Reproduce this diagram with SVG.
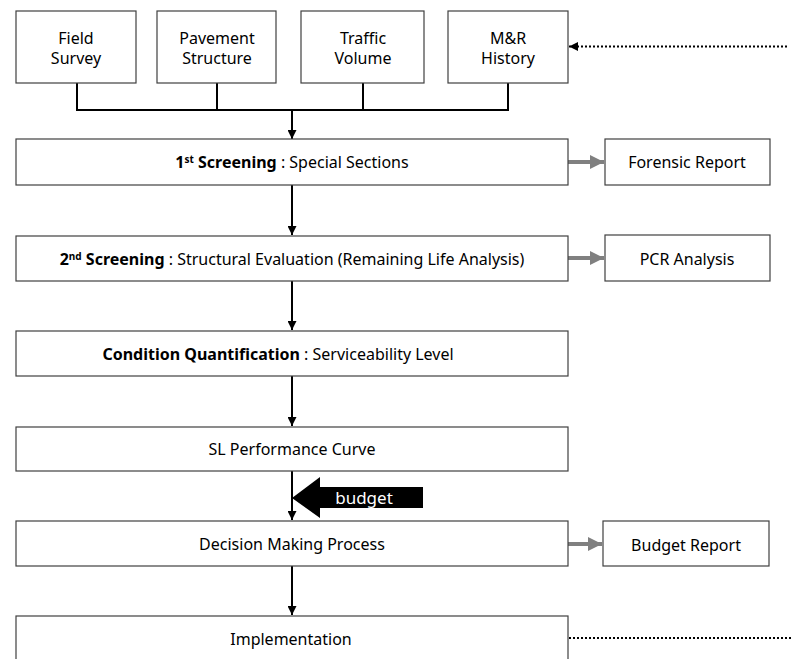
<svg xmlns="http://www.w3.org/2000/svg" width="793" height="659" viewBox="0 0 793 659">
<style>
  .box{fill:#fff;stroke:#404040;stroke-width:1.2}
  text{font-family:"Noto Sans","Open Sans",sans-serif;font-size:16px;fill:#000;text-anchor:middle}
  .b{font-weight:bold}
  .sup{font-size:10px}
  .ln{stroke:#000;stroke-width:2;fill:none}
  .gr{stroke:#808080;stroke-width:4;fill:none}
  .dot{stroke:#000;stroke-width:2;stroke-dasharray:2,2;fill:none}
</style>
<defs>
  <marker id="ah" viewBox="0 0 10 10" refX="10" refY="5" markerWidth="4.5" markerHeight="4.5" orient="auto" markerUnits="strokeWidth">
    <path d="M0,0 L10,5 L0,10 z" fill="#000"/>
  </marker>
  <marker id="gh" viewBox="0 0 10 10" refX="10" refY="5" markerWidth="3.5" markerHeight="4" orient="auto" markerUnits="strokeWidth">
    <path d="M0,0 L10,5 L0,10 z" fill="#808080"/>
  </marker>
</defs>
<g id="connectors">
  <path class="ln" d="M77,83 V110 H508 V83 M217,83 V110 M363,83 V110"/>
  <path class="ln" d="M292,110 V139" marker-end="url(#ah)"/>
  <path class="dot" d="M787,46.5 H569" marker-end="url(#ah)"/>
  <path class="ln" d="M292,185 V235" marker-end="url(#ah)"/>
  <path class="ln" d="M292,281 V330" marker-end="url(#ah)"/>
  <path class="ln" d="M292,376 V426" marker-end="url(#ah)"/>
  <path class="ln" d="M292,471 V520" marker-end="url(#ah)"/>
  <path class="ln" d="M292,566 V615" marker-end="url(#ah)"/>
  <path class="dot" d="M569,638 H793"/>
  <path class="gr" d="M568,162 H604" marker-end="url(#gh)"/>
  <path class="gr" d="M568,258 H604" marker-end="url(#gh)"/>
  <path class="gr" d="M568,544 H602" marker-end="url(#gh)"/>
</g>
<g id="field-survey"><rect class="box" x="16" y="11" width="120" height="72"/><text x="76" y="44">Field</text><text x="76" y="64">Survey</text></g>
<g id="pavement-structure"><rect class="box" x="157" y="11" width="119" height="72"/><text x="217" y="44">Pavement</text><text x="217" y="64">Structure</text></g>
<g id="traffic-volume"><rect class="box" x="301" y="11" width="123" height="72"/><text x="363" y="44">Traffic</text><text x="363" y="64">Volume</text></g>
<g id="mr-history"><rect class="box" x="448" y="11" width="120" height="72"/><text x="508" y="44">M&amp;R</text><text x="508" y="64">History</text></g>
<g id="screening1"><rect class="box" x="16" y="139" width="552" height="46"/><text x="292" y="168"><tspan class="b">1</tspan><tspan class="sup b" dy="-5">st</tspan><tspan class="b" dy="5"> Screening</tspan> : Special Sections</text></g>
<g id="forensic-report"><rect class="box" x="605" y="139" width="165" height="46"/><text x="687" y="168">Forensic Report</text></g>
<g id="screening2"><rect class="box" x="16" y="236" width="552" height="45"/><text x="292" y="265"><tspan class="b">2</tspan><tspan class="sup b" dy="-5">nd</tspan><tspan class="b" dy="5"> Screening</tspan> : Structural Evaluation (Remaining Life Analysis)</text></g>
<g id="pcr-analysis"><rect class="box" x="605" y="235" width="165" height="46"/><text x="687" y="265">PCR Analysis</text></g>
<g id="condition"><rect class="box" x="16" y="331" width="552" height="45"/><text x="278" y="360"><tspan class="b">Condition Quantification</tspan> : Serviceability Level</text></g>
<g id="sl-curve"><rect class="box" x="16" y="427" width="552" height="44"/><text x="292" y="455">SL Performance Curve</text></g>
<g id="budget">
  <path d="M292,498 L320,477 L320,487 L423,487 L423,508 L320,508 L320,518 z" fill="#000"/>
  <text x="364" y="504" style="fill:#fff;font-size:17px">budget</text>
</g>
<g id="decision"><rect class="box" x="16" y="521" width="552" height="45"/><text x="292" y="550">Decision Making Process</text></g>
<g id="budget-report"><rect class="box" x="603" y="521" width="166" height="45"/><text x="686" y="551">Budget Report</text></g>
<g id="implementation"><rect class="box" x="16" y="616" width="552" height="50"/><text x="291" y="645">Implementation</text></g>
</svg>
